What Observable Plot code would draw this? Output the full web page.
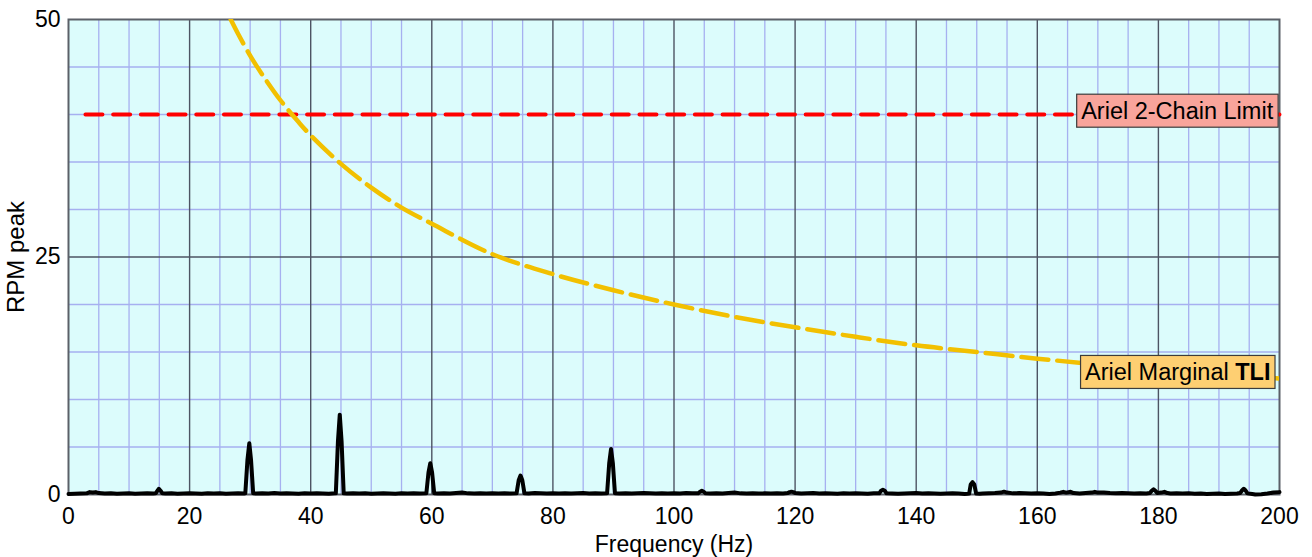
<!DOCTYPE html>
<html><head><meta charset="utf-8">
<script src="https://cdn.jsdelivr.net/npm/d3@7"></script>
<script src="https://cdn.jsdelivr.net/npm/@observablehq/plot@0.6"></script>
<style>
body{margin:0;background:#fff}
#chart svg{display:block}
</style>
</head><body><div id="chart"></div>
<script>
// ---- Data ----
const xTickLabels = [0, 20, 40, 60, 80, 100, 120, 140, 160, 180, 200];
const yTickLabels = [0, 25, 50];
const xMajorGrid = [20, 40, 60, 80, 100, 120, 140, 160, 180];
const xMinorGrid = [5, 10, 15, 25, 30, 35, 45, 50, 55, 65, 70, 75, 85, 90, 95, 105, 110, 115, 125, 130, 135, 145, 150, 155, 165, 170, 175, 185, 190, 195];
const yMajorGrid = [25];
const yMinorGrid = [5, 10, 15, 20, 30, 35, 40, 45];

// Ariel 2-Chain Limit (RPM peak)
const limitFreq = [2.8, 200];
const limitRpm = [40, 40];

// Ariel Marginal TLI curve
const tliFreq = [26.8, 28, 30, 32, 35, 38, 40, 45, 50, 55, 60, 70, 80, 90, 100, 110, 120, 130, 140, 150, 160, 170, 180, 190, 200];
const tliRpm  = [50, 48.5, 46.2, 44.2, 41.5, 39.2, 37.8, 34.8, 32.3, 30.2, 28.5, 25.3, 23.2, 21.5, 20.0, 18.7, 17.6, 16.6, 15.7, 15.0, 14.3, 13.7, 13.2, 12.7, 12.2];

// Measured spectrum
const specFreq = [
  0, 1, 2, 3, 3.5, 4, 4.5, 5, 6, 7, 8, 9, 10, 11, 12, 13, 14,
  14.4, 14.7, 14.93, 15.2, 15.5,
  16, 17, 18, 19, 20, 21, 22, 23, 24, 25, 26, 27, 28, 29,
  29.2, 29.55, 29.86, 30.15, 30.5,
  31, 32, 33, 34, 35, 36, 37, 38, 39, 40, 41, 42, 43, 44,
  44.15, 44.5, 44.8, 45.1, 45.45,
  46, 47, 48, 49, 50, 51, 52, 53, 54, 55, 56, 57, 58,
  59.1, 59.45, 59.75, 60.05, 60.4,
  61, 62, 63, 64, 65, 66, 67, 68, 69, 70, 71, 72, 73,
  74.0, 74.35, 74.65, 74.95, 75.3,
  76, 77, 78, 79, 80, 81, 82, 83, 84, 85, 86, 87, 88,
  88.95, 89.3, 89.6, 89.9, 90.25,
  91, 92, 93, 94, 95, 96, 97, 98, 99, 100, 101, 102, 103,
  104.0, 104.3, 104.6, 104.9, 105.2,
  106, 107, 108, 109, 110, 111, 112, 113, 114, 115, 116, 117, 118,
  118.8, 119.1, 119.4, 119.7, 120,
  121, 122, 123, 124, 125, 126, 127, 128, 129, 130, 131, 132, 133,
  133.9, 134.2, 134.5, 134.8, 135.1,
  136, 137, 138, 139, 140, 141, 142, 143, 144, 145, 146, 147, 148, 148.5,
  148.75, 149.0, 149.3, 149.6, 149.9,
  150.5, 151, 152, 153, 154, 154.5, 155, 156, 157, 158, 159, 160, 161, 162, 163,
  163.8, 164.3, 164.8, 165.5, 166, 167, 168, 169, 169.5, 170, 171, 172, 173, 174, 175, 176, 177, 178, 178.6,
  178.9, 179.2, 179.5, 179.8,
  180.5, 181, 181.5, 182, 183, 184, 185, 186, 187, 188, 189, 190, 191, 192, 193, 193.5,
  193.8, 194.1, 194.4, 194.7,
  195.5, 196, 197, 198, 199, 200
];
const specAmp = [
  0.05, 0.08, 0.1, 0.12, 0.25, 0.2, 0.25, 0.15, 0.1, 0.12, 0.08, 0.1, 0.12, 0.08, 0.1, 0.12, 0.1,
  0.12, 0.4, 0.6, 0.4, 0.12,
  0.1, 0.12, 0.08, 0.1, 0.12, 0.1, 0.08, 0.12, 0.1, 0.12, 0.08, 0.1, 0.12, 0.1,
  0.12, 3.6, 5.4, 3.6, 0.12,
  0.1, 0.12, 0.1, 0.15, 0.1, 0.12, 0.1, 0.08, 0.12, 0.1, 0.12, 0.1, 0.08, 0.12,
  0.12, 5.6, 8.4, 5.6, 0.12,
  0.1, 0.12, 0.1, 0.12, 0.08, 0.1, 0.12, 0.1, 0.08, 0.12, 0.1, 0.12, 0.1,
  0.12, 2.3, 3.3, 2.3, 0.12,
  0.1, 0.12, 0.1, 0.15, 0.2, 0.12, 0.1, 0.12, 0.1, 0.12, 0.1, 0.12, 0.1,
  0.12, 1.5, 2.0, 1.5, 0.12,
  0.1, 0.15, 0.12, 0.1, 0.12, 0.1, 0.12, 0.1, 0.12, 0.15, 0.1, 0.12, 0.1,
  0.12, 3.3, 4.8, 3.3, 0.12,
  0.1, 0.12, 0.1, 0.12, 0.15, 0.12, 0.1, 0.12, 0.1, 0.12, 0.1, 0.15, 0.12,
  0.12, 0.3, 0.4, 0.3, 0.12,
  0.1, 0.12, 0.1, 0.15, 0.2, 0.12, 0.1, 0.12, 0.1, 0.12, 0.1, 0.12, 0.1,
  0.15, 0.25, 0.3, 0.25, 0.15,
  0.1, 0.12, 0.15, 0.1, 0.12, 0.1, 0.08, 0.12, 0.1, 0.12, 0.1, 0.08, 0.12,
  0.12, 0.4, 0.5, 0.4, 0.12,
  0.1, 0.08, 0.1, 0.12, 0.15, 0.1, 0.12, 0.1, 0.08, 0.1, 0.12, 0.1, 0.05, 0.08,
  0.1, 1.05, 1.3, 1.05, 0.1,
  0.08, 0.1, 0.12, 0.15, 0.2, 0.3, 0.2, 0.12, 0.15, 0.12, 0.1, 0.12, 0.1, 0.05, 0.1,
  0.2, 0.28, 0.2, 0.28, 0.15, 0.1, 0.15, 0.2, 0.28, 0.2, 0.2, 0.15, 0.12, 0.15, 0.12, 0.1, 0.12, 0.1, 0.15,
  0.4, 0.55, 0.4, 0.15,
  0.2, 0.28, 0.15, 0.1, 0.12, 0.1, 0.12, 0.08, 0.1, 0.05, 0.08, 0.1, 0.05, 0.08, 0.1, 0.15,
  0.42, 0.6, 0.42, 0.12,
  0.05, 0.0, 0.02, 0.1, 0.2, 0.25
];

// Annotation labels
const labelText = ["Ariel 2-Chain Limit", "Ariel Marginal TLI"];
const labelFreq = [183.1, 183.2];
const labelRpm  = [40.35, 12.85];
const labelFill = ["#f9a49b", "#fecf72"];

// ---- Build tables ----
const limit = limitFreq.map((f, i) => ({f, r: limitRpm[i]}));
const tli = tliFreq.map((f, i) => ({f, r: tliRpm[i]}));
const spectrum = specFreq.map((f, i) => ({f, r: specAmp[i]}));
const labels = labelText.map((t, i) => ({t, f: labelFreq[i], r: labelRpm[i], fill: labelFill[i]}));

const font = "'Liberation Sans', Arial, Helvetica, sans-serif";

const chart = Plot.plot({
  width: 1312,
  height: 557,
  marginLeft: 68,
  marginRight: 33,
  marginTop: 19,
  marginBottom: 63,
  style: {fontFamily: font, fontSize: "23px", background: "#fff", color: "#000", overflow: "visible"},
  x: {domain: [0, 200]},
  y: {domain: [0, 50]},
  marks: [
    Plot.frame({fill: "#dcfcfc", stroke: null}),
    Plot.gridX(xMinorGrid, {stroke: "#a6b0f0", strokeOpacity: 1, strokeWidth: 1.3}),
    Plot.gridY(yMinorGrid, {stroke: "#a6b0f0", strokeOpacity: 1, strokeWidth: 1.3}),
    Plot.gridX(xMajorGrid, {stroke: "#4d5463", strokeOpacity: 1, strokeWidth: 1.4}),
    Plot.gridY(yMajorGrid, {stroke: "#4d5463", strokeOpacity: 1, strokeWidth: 1.4}),
    Plot.frame({stroke: "#5b6068", strokeWidth: 2}),
    Plot.axisX(xTickLabels, {tickSize: 0, tickPadding: 13, fontSize: 23, label: "Frequency (Hz)", labelAnchor: "center", labelArrow: "none", labelOffset: 57}),
    Plot.axisY(yTickLabels, {tickSize: 0, tickPadding: 8, fontSize: 23, label: "RPM peak", labelAnchor: "center", labelArrow: "none", labelOffset: 62}),
    Plot.line(limit, {x: "f", y: "r", stroke: "#ff0000", strokeWidth: 4, strokeDasharray: "17,10.7"}),
    Plot.line(tli, {x: "f", y: "r", stroke: "#f2c000", strokeWidth: 4.5, strokeDasharray: "27,9", curve: "catmull-rom", clip: true}),
    Plot.line(spectrum, {x: "f", y: "r", stroke: "#000", strokeWidth: 4, strokeLinejoin: "round", strokeLinecap: "round"}),
    Plot.text(labels, {x: "f", y: "r", text: "t", fill: "#000", fontSize: 23.5, textAnchor: "middle"})
  ]
});

document.getElementById("chart").appendChild(chart);

// label boxes behind annotation text
chart.querySelectorAll("text").forEach(el => {
  const idx = labelText.indexOf(el.textContent);
  if (idx < 0) return;
  if (idx === 1) {
    el.textContent = "";
    const ns = "http://www.w3.org/2000/svg";
    const a = document.createElementNS(ns, "tspan"); a.textContent = "Ariel Marginal ";
    const b = document.createElementNS(ns, "tspan"); b.textContent = "TLI"; b.setAttribute("font-weight", "bold");
    el.appendChild(a); el.appendChild(b);
  }
  const bb = el.getBBox();
  const padX = 4.5, padY = 5;
  const rect = document.createElementNS("http://www.w3.org/2000/svg", "rect");
  rect.setAttribute("x", bb.x - padX);
  rect.setAttribute("y", bb.y - padY + 1.5);
  rect.setAttribute("width", bb.width + 2 * padX);
  rect.setAttribute("height", bb.height + 2 * padY - 3);
  rect.setAttribute("fill", labelFill[idx]);
  rect.setAttribute("stroke", "#3c3c3c");
  rect.setAttribute("stroke-width", "1.2");
  const tr = el.getAttribute("transform");
  if (tr) rect.setAttribute("transform", tr);
  el.parentNode.insertBefore(rect, el);
});

// y label font size
chart.querySelectorAll("text").forEach(el => {
  if (el.textContent === "RPM peak") el.setAttribute("font-size", "24");
});
</script>
</body></html>
